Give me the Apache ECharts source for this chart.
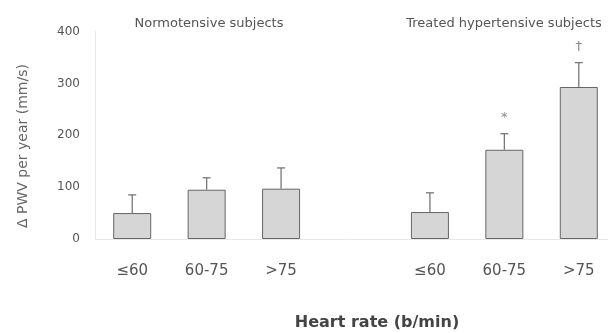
<!DOCTYPE html>
<html><head><meta charset="utf-8">
<script src="https://cdn.jsdelivr.net/npm/echarts@6/dist/echarts.min.js"></script>
<style>html,body{margin:0;padding:0;background:#fff}#c{width:608px;height:333px}</style>
</head><body><div id="c"></div>
<script>
const categories = ['≤60', '60-75', '>75', '', '≤60', '60-75', '>75'];
const meanValues = [50, 95, 97, null, 52, 172, 293];
const errorTops  = [85, 118, 137, null, 89, 203, 340];
const marks      = ['', '', '', '', '', '*', '†'];
const groupTitles = ['Normotensive subjects', 'Treated hypertensive subjects'];
const xAxisTitle = 'Heart rate (b/min)';
const yAxisTitle = 'Δ PWV per year (mm/s)';
const yTicks = [0, 100, 200, 300, 400];

const chart = echarts.init(document.getElementById('c'));
const font = 'DejaVu Sans, sans-serif';
chart.setOption({
  animation: false,
  backgroundColor: '#fff',
  title: [
    {text: groupTitles[0], left: 204, top: 12, textAlign: 'center',
     textStyle: {fontSize: 13, fontWeight: 'normal', color: '#555', fontFamily: font}},
    {text: groupTitles[1], left: 499, top: 12, textAlign: 'center',
     textStyle: {fontSize: 13, fontWeight: 'normal', color: '#555', fontFamily: font}}
  ],
  graphic: [
    {type: 'text', x: 377, y: 323, style: {text: xAxisTitle, align: 'center', verticalAlign: 'middle',
      fill: '#444', font: 'bold 16px DejaVu Sans, sans-serif'}},
    {type: 'text', x: 23, y: 146, rotation: Math.PI / 2, style: {text: yAxisTitle, align: 'center',
      verticalAlign: 'middle', fill: '#666', font: '14px DejaVu Sans, sans-serif'}}
  ],
  grid: {left: 95, right: -8, top: 31.5, bottom: 94, containLabel: false, outerBoundsMode: 'none'},
  xAxis: {
    type: 'category', data: categories,
    axisLine: {show: true, lineStyle: {color: '#e8e8e8'}},
    axisTick: {show: false},
    axisLabel: {color: '#555', fontSize: 15, fontFamily: font, margin: 25}
  },
  yAxis: {
    type: 'value', min: 0, max: 400, interval: 100,
    axisLine: {show: true, lineStyle: {color: '#e8e8e8'}},
    axisTick: {show: false},
    splitLine: {show: false},
    axisLabel: {color: '#555', fontSize: 12, fontFamily: font, margin: 15,
      formatter: v => yTicks.includes(v) ? String(v) : ''}
  },
  series: [
    {
      type: 'bar', data: meanValues, barWidth: 38,
      itemStyle: {color: '#d6d6d6', borderColor: '#666', borderWidth: 1}
    },
    {
      type: 'custom',
      data: categories.map((c, i) => [i, meanValues[i], errorTops[i]]).filter(d => d[1] != null),
      z: 3,
      renderItem: function (params, api) {
        const i = api.value(0);
        const base = api.coord([i, api.value(1)]);
        const top = api.coord([i, api.value(2)]);
        const mark = marks[i];
        const children = [
          {type: 'line', shape: {x1: base[0], y1: base[1], x2: top[0], y2: top[1]},
           style: {stroke: '#777', lineWidth: 1.3}},
          {type: 'line', shape: {x1: top[0] - 4, y1: top[1], x2: top[0] + 4, y2: top[1]},
           style: {stroke: '#777', lineWidth: 1.3}}
        ];
        if (mark) {
          children.push({type: 'text', style: {text: mark, x: top[0], y: top[1] - 16,
            align: 'center', verticalAlign: 'middle', fill: '#888', fontSize: 13, fontFamily: font}});
        }
        return {type: 'group', children: children};
      }
    }
  ]
});
</script></body></html>
